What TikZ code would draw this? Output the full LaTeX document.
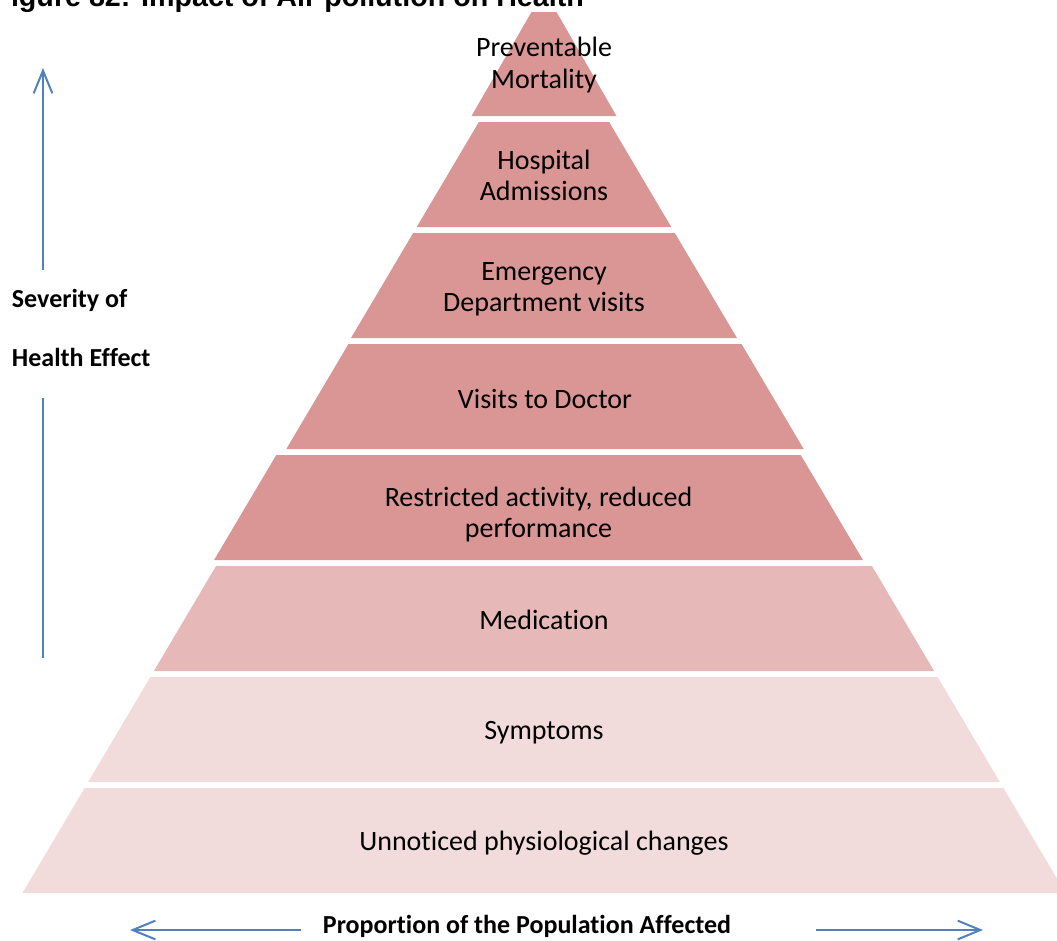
\documentclass[tikz,border=0pt]{standalone}
\usepackage{fontspec}
\setmainfont[Ligatures=NoCommon]{Carlito}
\newfontfamily\captionfont{Liberation Sans}
\usetikzlibrary{arrows.meta}

\tikzset{every picture/.style={line width=0.75pt}}
\tikzset{
  tierdark/.style={fill={rgb, 255:red, 217; green, 150; blue, 148 }},
  tiermid/.style={fill={rgb, 255:red, 230; green, 185; blue, 184 }},
  tierlight/.style={fill={rgb, 255:red, 242; green, 220; blue, 219 }},
  tierlabel/.style={align=center, text=black, font=\fontsize{21}{23.5}\selectfont},
  axislabel/.style={text=black, font=\fontsize{19.5}{22}\selectfont\bfseries},
  axisline/.style={draw={rgb, 255:red, 79; green, 129; blue, 189 }, line width=1.5pt},
  axisarrow/.style={axisline, -{Straight Barb[length=17pt,width=14pt,line width=1.5pt]}},
}

\begin{document}
\begin{tikzpicture}[x=0.75pt,y=0.75pt,yscale=-1]
	\useasboundingbox (0,0) rectangle (1057,940);
	\clip (0,0) rectangle (1057,940);

	% Text Node (caption, cut by the page top)
	\node[anchor=base west, inner sep=0, text=black, font=\captionfont\bfseries\fontsize{21.5}{24}\selectfont] (caption) at (-7,6) {Figure 82: Impact of Air pollution on Health};

	%Shape: top tier
	\fill[tierdark] (531.5,12) -- (556.5,12) -- (616.5,116) -- (471.5,116) -- cycle;
	\node[tierlabel] (tier1) at (544,65) {Preventable\\Mortality};

	%Shape: lower tiers
	\foreach \ty/\by/\cx/\dy/\shade/\txt [count=\i from 2] in {
		122/227/544/1/tierdark/{Hospital\\Admissions},
		233/338/544/4/tierdark/{Emergency\\Department visits},
		344/449/545/2/tierdark/{Visits to Doctor},
		455/560/538.5/7/tierdark/{Restricted activity, reduced\\performance},
		566/671/544/1/tiermid/{Medication},
		677/782/544/3/tierlight/{Symptoms},
		788/893/544/3/tierlight/{Unnoticed physiological changes}}
	{
		\fill[\shade] ({\cx-0.592*(\ty-12)},\ty) -- ({\cx+0.592*(\ty-12)},\ty) -- ({\cx+0.592*(\by-12)},\by) -- ({\cx-0.592*(\by-12)},\by) -- cycle;
		\node[tierlabel] (tier\i) at (\cx,{(\ty+\by)/2+\dy}) {\txt};
	}

	% Text Node
	\node[axislabel, align=left, anchor=west] (severity) at (7,328) {Severity of\\[22pt]Health Effect};
	% Text Node
	\node[axislabel] (proportion) at (527,926) {Proportion of the Population Affected};

	\coordinate (sevtop) at (43,68);
	\coordinate (sevbot) at (43,658);
	\coordinate (popleft) at (130,930);
	\coordinate (popright) at (983,930);

	%Straight Lines
	\draw[axisarrow, shorten <=11pt] (severity.north -| sevtop) -- (sevtop);
	\draw[axisline, shorten <=20pt] (severity.south -| sevbot) -- (sevbot);
	\draw[axisarrow, shorten <=13pt] (proportion.west |- popleft) -- (popleft);
	\draw[axisarrow, shorten <=60pt] (proportion.east |- popright) -- (popright);
\end{tikzpicture}
\end{document}
